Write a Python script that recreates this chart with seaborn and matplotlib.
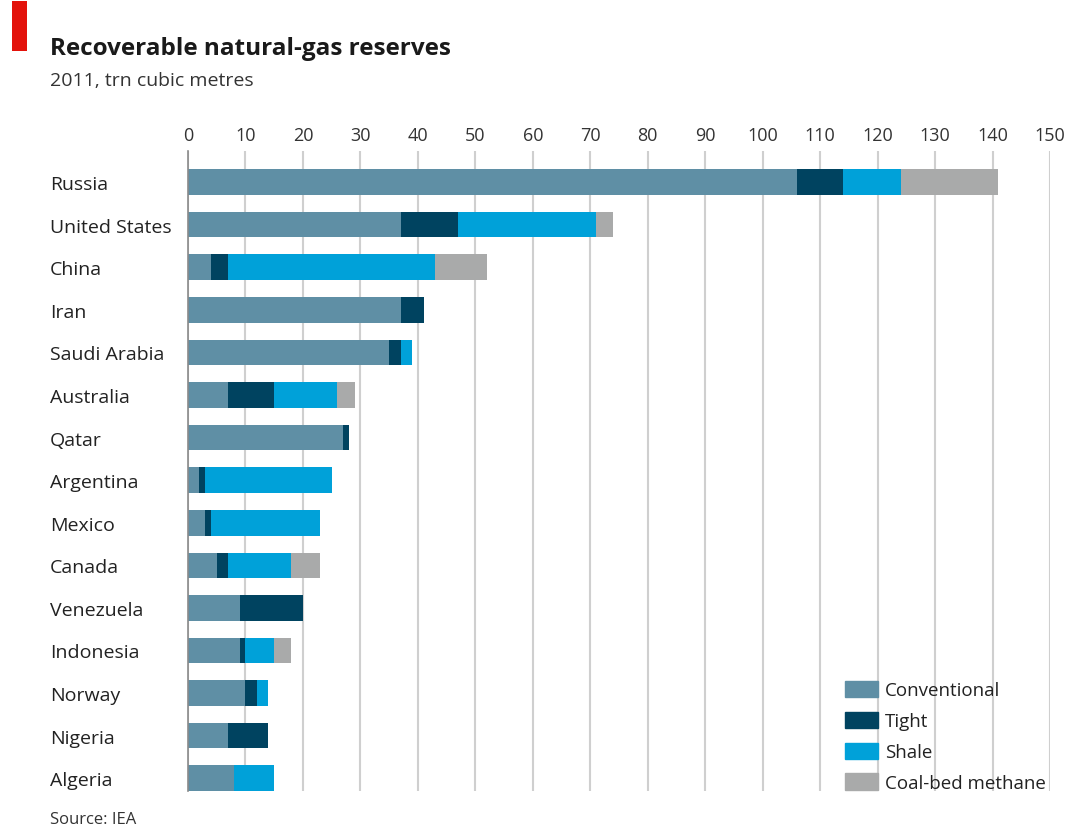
import matplotlib
matplotlib.use("Agg")
import matplotlib.pyplot as plt
import matplotlib.patches as mpatches
import seaborn as sns
import numpy as np
import pandas as pd

countries = ["Russia", "United States", "China", "Iran", "Saudi Arabia", "Australia",
             "Qatar", "Argentina", "Mexico", "Canada", "Venezuela", "Indonesia",
             "Norway", "Nigeria", "Algeria"]
conventional = [106, 37, 4, 37, 35, 7, 27, 2, 3, 5, 9, 9, 10, 7, 8]
tight        = [8, 10, 3, 4, 2, 8, 1, 1, 1, 2, 11, 1, 2, 7, 0]
shale        = [10, 24, 36, 0, 2, 11, 0, 22, 19, 11, 0, 5, 2, 0, 7]
coalbed      = [17, 3, 9, 0, 0, 3, 0, 0, 0, 5, 0, 3, 0, 0, 0]
series_names = ["Conventional", "Tight", "Shale", "Coal-bed methane"]
colors = ["#5f8fa5", "#004360", "#00a1d9", "#a9aaaa"]
xticks = list(range(0, 151, 10))

sns.set_theme(style="white")
FONT = "Open Sans"
plt.rcParams["font.family"] = [FONT, "DejaVu Sans"]

df = pd.DataFrame({"country": countries, "Conventional": conventional, "Tight": tight,
                   "Shale": shale, "Coal-bed methane": coalbed})
cum = df[series_names].cumsum(axis=1)

fig = plt.figure(figsize=(10.83, 8.29), dpi=100)
ax = fig.add_axes([188/1083, 1 - 792/829, 862/1083, (792-152)/829])

ax.set_axisbelow(True)
for i in range(len(series_names) - 1, -1, -1):
    name = series_names[i]
    sns.barplot(x=cum[name].values, y=df["country"], orient="h", color=colors[i],
                width=0.6, linewidth=0, saturation=1, ax=ax, label=name, zorder=3)

ax.set_xlim(0, 150)
ax.set_ylim(14.3, -0.73)
ax.set_xticks(xticks)
ax.xaxis.tick_top()
ax.grid(axis="x", color="#cfcfcf", linewidth=1.5, zorder=0)
ax.grid(axis="y", visible=False)
for s in ["top", "right", "bottom"]:
    ax.spines[s].set_visible(False)
ax.spines["left"].set_color("#8a8a8a")
ax.spines["left"].set_linewidth(1.2)
ax.spines["left"].set_zorder(5)
ax.set_xlabel("")
ax.set_ylabel("")
ax.tick_params(axis="x", length=0, pad=5, labelsize=13, labelcolor="#333333")
ax.tick_params(axis="y", length=0, pad=(188 - 50) * 72 / 100, labelsize=14, labelcolor="#222222")
for lab in ax.get_yticklabels():
    lab.set_horizontalalignment("left")

if ax.get_legend() is not None:
    ax.get_legend().remove()
handles = [mpatches.Patch(color=c, label=n) for c, n in zip(colors, series_names)]
fig.legend(handles=handles, loc="upper left", bbox_to_anchor=(841/1083, 1 - 678/829),
           frameon=False, fontsize=13.5, handlelength=1.76, handleheight=0.95,
           handletextpad=0.4, labelspacing=0.66, borderaxespad=0, borderpad=0.2,
           labelcolor="#222222")

fig.add_artist(mpatches.Rectangle((12/1083, 1 - 52/829), 15/1083, 50/829,
                                  transform=fig.transFigure, color="#e3120b", lw=0))
fig.text(50/1083, 1 - 55/829, "Recoverable natural-gas reserves", fontsize=17.5,
         fontweight="bold", color="#1a1a1a", va="baseline", ha="left")
fig.text(50/1083, 1 - 86/829, "2011, trn cubic metres", fontsize=14,
         color="#333333", va="baseline", ha="left")
fig.text(50/1083, 1 - 824/829, "Source: IEA", fontsize=12,
         color="#333333", va="baseline", ha="left")

fig.savefig("out.png", dpi=100)
